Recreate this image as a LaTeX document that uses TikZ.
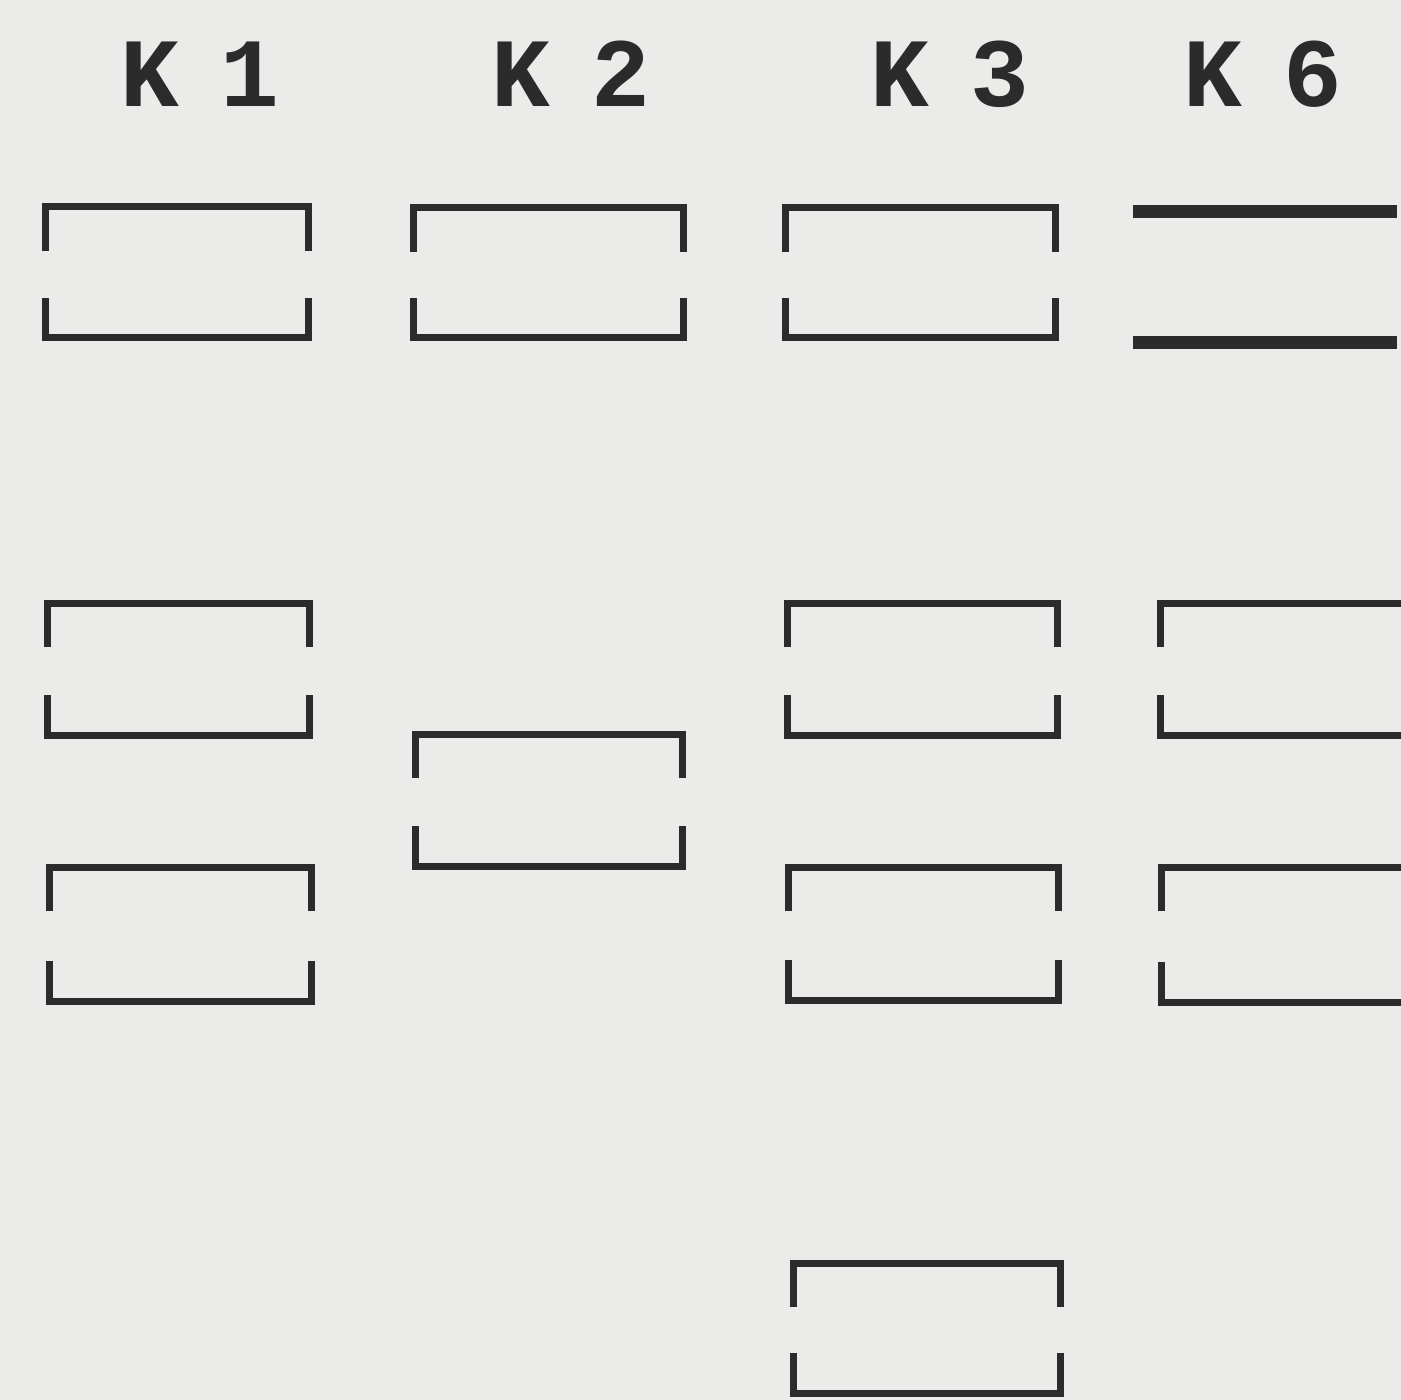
\documentclass[tikz,border=0pt]{standalone}
\usepackage{fontspec}
\setmonofont{Liberation Mono}
\definecolor{paper}{HTML}{EBEBEA}
\definecolor{ink}{HTML}{2B2B2B}
\tikzset{
  px/.style={x=0.5pt,y=-0.5pt},
  klabel/.style={font=\ttfamily\bfseries\fontsize{49}{52}\selectfont, text=ink, anchor=base, inner sep=0pt},
  kline/.style={draw=ink, line width=3.5pt, line join=miter, line cap=butt},
  kthick/.style={draw=ink, line width=6.5pt, line cap=butt},
}
% contact box: upper bracket and lower bracket
\newcommand\kbox[4]{%
  \draw[kline] (#1,#2+44) -- (#1,#2) -- (#3,#2) -- (#3,#2+44);
  \draw[kline] (#1,#4-40) -- (#1,#4) -- (#3,#4) -- (#3,#4-40);
}
\begin{document}
\begin{tikzpicture}[px]
\useasboundingbox (0,0) rectangle (1401,1400);
\fill[paper] (0,0) rectangle (1401,1400);
\clip (0,0) rectangle (1401,1400);
% labels
\node[klabel] (k1) at (200,107) {K\hspace{21pt}1};
\node[klabel] (k2) at (571,107) {K\hspace{21pt}2};
\node[klabel] (k3) at (950,107) {K\hspace{21pt}3};
\node[klabel] (k6) at (1263,107) {K\hspace{21pt}6};
% row 1
\kbox{45}{207}{308}{338}
\kbox{413}{208}{683}{338}
\kbox{785}{208}{1055}{338}
\draw[kthick] (1133,212) -- (1397,212);
\draw[kthick] (1133,343) -- (1397,343);
% rows 2 and 3
\kbox{47}{603}{309}{735}
\kbox{49}{867}{311}{1001}
\kbox{415}{734}{682}{866}
\kbox{787}{603}{1057}{735}
\kbox{788}{867}{1058}{1000}
\kbox{1160}{603}{1440}{735}
\kbox{1161}{867}{1440}{1002}
% row 4
\kbox{793}{1263}{1060}{1393}
\end{tikzpicture}
\end{document}
